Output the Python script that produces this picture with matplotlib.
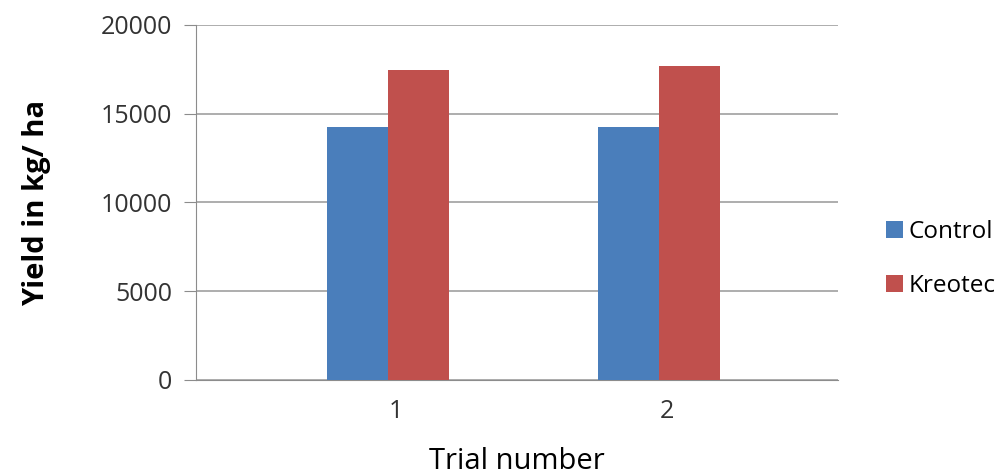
import matplotlib.pyplot as plt
import numpy as np

# données
essais = [1, 2]
etiquettes = ["1", "2"]
temoin = [14270, 14270]
kreotec = [17450, 17700]

plt.rcParams['font.family'] = ['Open Sans', 'DejaVu Sans']

fig = plt.figure(figsize=(10.08, 4.76), dpi=100)
ax = fig.add_axes([0.1944, 0.2017, 0.6369, 0.7458])

x = np.array(essais, dtype=float)
w = 0.225
ax.bar(x - w / 2, temoin, w, color="#4A7EBB", label="Control", zorder=3)
ax.bar(x + w / 2, kreotec, w, color="#C0504D", label="Kreotec", zorder=3)

ax.set_xlim(0.292, 2.66)
ax.set_ylim(0, 20000)
ax.set_yticks([0, 5000, 10000, 15000, 20000])
ax.set_xticks(x + 0.03)
ax.set_xticklabels(etiquettes)

ax.yaxis.grid(True, color="#A0A0A0", linewidth=1.2, zorder=0)
for s in ["top", "right"]:
    ax.spines[s].set_visible(False)
ax.spines["left"].set_color("#8C8C8C")
ax.spines["bottom"].set_color("#8C8C8C")
ax.tick_params(axis="y", length=9, color="#8C8C8C", labelsize=18, labelcolor="#333333", pad=8)
ax.tick_params(axis="x", length=0, labelsize=18, labelcolor="#333333", pad=14)

ax.set_ylabel("Yield in kg/ ha", fontsize=21, fontweight="bold", labelpad=36)
ax.set_xlabel("Trial number", fontsize=21, labelpad=16)

ax.legend(loc="center left", bbox_to_anchor=(1.04, 0.34), frameon=False,
          fontsize=17.5, handlelength=0.7, handleheight=0.7, handletextpad=0.25,
          labelspacing=1.25)

fig.savefig("out.png", dpi=100)
